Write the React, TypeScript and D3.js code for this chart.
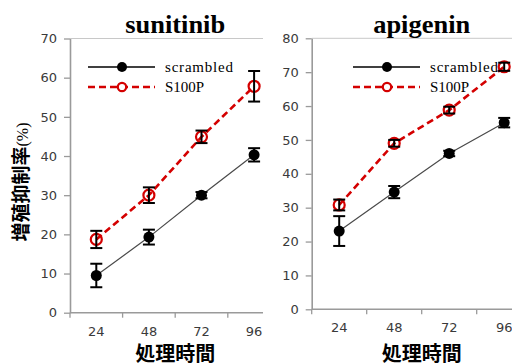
import React, { useEffect, useRef } from "react";
import * as d3 from "d3";

// treatment time (h)
const hours = ["24", "48", "72", "96"];

// sunitinib panel
const suniScrambled = [9.5, 19.3, 30.0, 40.3];
const suniScrambledErr = [3.0, 1.9, 0.8, 1.7];
const suniS100P = [18.7, 30.0, 44.9, 57.8];
const suniS100PErr = [2.2, 2.0, 1.6, 3.9];
const suniYTicks = [0, 10, 20, 30, 40, 50, 60, 70];

// apigenin panel
const apiScrambled = [23.1, 34.6, 46.0, 55.1];
const apiScrambledErr = [4.4, 1.8, 0.8, 1.4];
const apiS100P = [30.8, 49.0, 58.8, 71.6];
const apiS100PErr = [1.6, 1.0, 1.0, 1.2];
const apiYTicks = [0, 10, 20, 30, 40, 50, 60, 70, 80];

const seriesNames = ["scrambled", "S100P"];

const RED = "#d40000";
const AXIS = "#9a9a9a";
const NUM_FONT = "'DejaVu Sans', Verdana, sans-serif";
const SERIF = "'Liberation Serif', 'Times New Roman', serif";
const CJK = "'Noto Sans CJK JP', 'Noto Sans CJK SC', sans-serif";

type PanelProps = {
  title: string;
  titleLen: number;
  left: number;
  band: number;
  right: number;
  top: number;
  bottom: number;
  yMax: number;
  yTicks: number[];
  scr: number[];
  scrErr: number[];
  s1: number[];
  s1Err: number[];
  legendX: number;
};

const Panel = (p: PanelProps) => {
  const yRef = useRef<SVGGElement>(null);
  const x = d3
    .scaleBand()
    .domain(hours)
    .range([p.left, p.left + p.band * hours.length]);
  const y = d3.scaleLinear().domain([0, p.yMax]).range([p.bottom, p.top]);
  const cx = (h: string) => (x(h) as number) + x.bandwidth() / 2;

  useEffect(() => {
    const g = d3.select(yRef.current!);
    g.selectAll("*").remove();
    g.call(
      d3
        .axisLeft(y)
        .tickValues(p.yTicks)
        .tickSize(6)
        .tickSizeOuter(0)
        .tickPadding(7)
        .tickFormat(d3.format("d"))
    );
    g.select(".domain").attr("stroke", AXIS).attr("stroke-width", 1.6);
    g.selectAll(".tick line").attr("stroke", AXIS).attr("stroke-width", 1.3);
    g.selectAll(".tick text")
      .attr("fill", "#3a3a3a")
      .style("font-family", NUM_FONT)
      .style("font-size", "13px");
  }, []);

  const line = d3
    .line<number>()
    .x((_, i) => cx(hours[i]))
    .y((d) => y(d));

  const errBars = (vals: number[], errs: number[], key: string) =>
    vals.map((v, i) => {
      const X = cx(hours[i]);
      const t = y(v + errs[i]);
      const b = y(v - errs[i]);
      return (
        <g key={key + i} stroke="#000" strokeWidth={2}>
          <line x1={X} x2={X} y1={t} y2={b} />
          <line x1={X - 6} x2={X + 6} y1={t} y2={t} />
          <line x1={X - 6} x2={X + 6} y1={b} y2={b} />
        </g>
      );
    });

  const ly1 = 67;
  const ly2 = 87;

  return (
    <g>
      {/* top border */}
      <line x1={p.left} x2={p.right} y1={p.top} y2={p.top} stroke="#c8c8c8" strokeWidth={1} />
      {/* x axis */}
      <line x1={p.left} x2={p.right} y1={p.bottom} y2={p.bottom} stroke={AXIS} strokeWidth={1.6} />
      {hours.map((h) => (
        <line
          key={"t" + h}
          x1={x(h) as number}
          x2={x(h) as number}
          y1={p.bottom}
          y2={p.bottom + 5}
          stroke={AXIS}
          strokeWidth={1.3}
        />
      ))}
      {hours.map((h) => (
        <text
          key={"l" + h}
          x={cx(h)}
          y={p.bottom + 23}
          textAnchor="middle"
          fill="#3a3a3a"
          style={{ fontFamily: NUM_FONT, fontSize: 13 }}
        >
          {h}
        </text>
      ))}
      <g ref={yRef} transform={`translate(${p.left},0)`} />

      {/* title */}
      <text
        x={(p.left + p.left + p.band * 4) / 2}
        y={33}
        textAnchor="middle"
        textLength={p.titleLen}
        lengthAdjust="spacingAndGlyphs"
        style={{ fontFamily: SERIF, fontSize: 25, fontWeight: "bold" }}
      >
        {p.title}
      </text>

      {/* series */}
      <path d={line(p.scr) || ""} fill="none" stroke="#4a4a4a" strokeWidth={1.2} />
      <path
        d={line(p.s1) || ""}
        fill="none"
        stroke={RED}
        strokeWidth={2.6}
        strokeDasharray="7,4"
      />
      {p.scr.map((v, i) => (
        <circle key={"sc" + i} cx={cx(hours[i])} cy={y(v)} r={5.5} fill="#000" />
      ))}
      {errBars(p.scr, p.scrErr, "es")}
      {p.s1.map((v, i) => (
        <circle
          key={"sp" + i}
          cx={cx(hours[i])}
          cy={y(v)}
          r={5.5}
          fill="none"
          stroke={RED}
          strokeWidth={2.2}
        />
      ))}
      {errBars(p.s1, p.s1Err, "ep")}

      {/* legend */}
      <line x1={p.legendX} x2={p.legendX + 67} y1={ly1} y2={ly1} stroke="#000" strokeWidth={1.3} />
      <circle cx={p.legendX + 34} cy={ly1} r={5} fill="#000" />
      <line
        x1={p.legendX}
        x2={p.legendX + 67}
        y1={ly2}
        y2={ly2}
        stroke={RED}
        strokeWidth={2.6}
        strokeDasharray="7,4"
      />
      <circle cx={p.legendX + 34} cy={ly2} r={4.2} fill="#fff" stroke={RED} strokeWidth={2.2} />
      <text
        x={p.legendX + 77}
        y={ly1 + 5}
        textLength={68}
        lengthAdjust="spacing"
        style={{ fontFamily: SERIF, fontSize: 15 }}
      >
        {seriesNames[0]}
      </text>
      <text x={p.legendX + 77} y={ly2 + 5} style={{ fontFamily: SERIF, fontSize: 15 }}>
        {seriesNames[1]}
      </text>

      {/* x axis title */}
      <text
        x={(p.left + p.left + p.band * 4) / 2}
        y={361}
        textAnchor="middle"
        style={{ fontFamily: CJK, fontSize: 20, fontWeight: "bold" }}
      >
        処理時間
      </text>
    </g>
  );
};

export default function App() {
  return (
    <svg
      width={512}
      height={363}
      style={{ position: "absolute", left: 0, top: 0, background: "#fff" }}
    >
      <rect width={512} height={363} fill="#fff" />
      <Panel
        title="sunitinib"
        titleLen={100}
        left={70}
        band={52.6}
        right={263}
        top={38.5}
        bottom={312.7}
        yMax={70}
        yTicks={suniYTicks}
        scr={suniScrambled}
        scrErr={suniScrambledErr}
        s1={suniS100P}
        s1Err={suniS100PErr}
        legendX={88}
      />
      <Panel
        title="apigenin"
        titleLen={97}
        left={311.7}
        band={55}
        right={512}
        top={38.3}
        bottom={309.3}
        yMax={80}
        yTicks={apiYTicks}
        scr={apiScrambled}
        scrErr={apiScrambledErr}
        s1={apiS100P}
        s1Err={apiS100PErr}
        legendX={353}
      />
      {/* y axis title */}
      <text
        transform="translate(28,182) rotate(-90)"
        textAnchor="middle"
        style={{ fontFamily: CJK, fontSize: 19, fontWeight: "bold" }}
      >
        増殖抑制率
        <tspan style={{ fontFamily: SERIF, fontSize: 16, fontWeight: "normal" }}>(%)</tspan>
      </text>
    </svg>
  );
}
